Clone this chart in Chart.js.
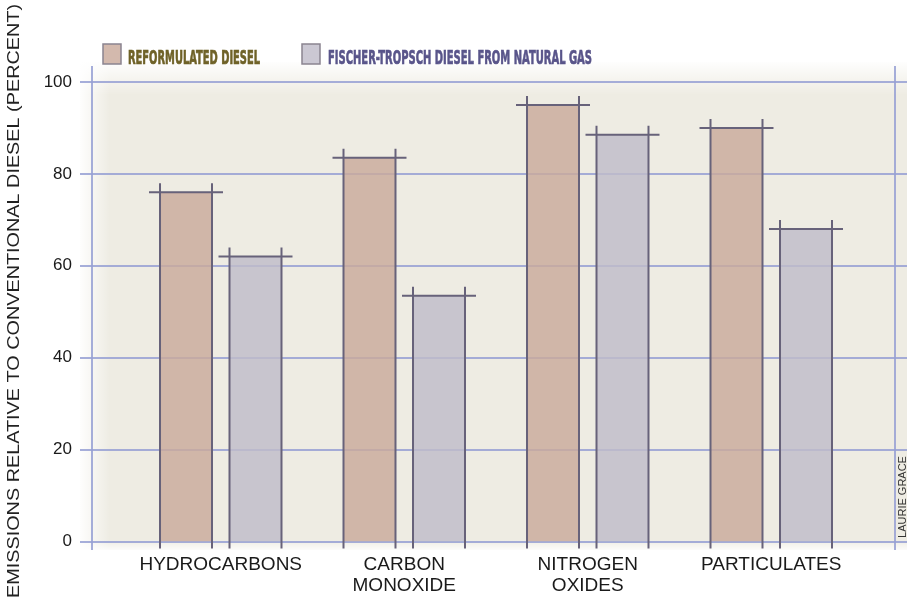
<!DOCTYPE html>
<html>
<head>
<meta charset="utf-8">
<script src="https://cdn.jsdelivr.net/npm/chart.js@4"></script>
<style>
  html, body { margin: 0; padding: 0; background: #fff; }
  #wrap { width: 907px; height: 600px; position: relative; }
</style>
</head>
<body>
<div id="wrap"><canvas id="chart"></canvas></div>
<script>
// data
const categories = [['HYDROCARBONS'], ['CARBON', 'MONOXIDE'], ['NITROGEN', 'OXIDES'], ['PARTICULATES']];
const reformulated = [76, 83.5, 95, 90];
const fischerTropsch = [62, 53.5, 88.5, 68];
const seriesNames = ['REFORMULATED DIESEL', 'FISCHER-TROPSCH DIESEL FROM NATURAL GAS'];
const yTicks = [0, 20, 40, 60, 80, 100];
const yTitle = 'EMISSIONS RELATIVE TO CONVENTIONAL DIESEL (PERCENT)';
const credit = 'LAURIE GRACE';

const fillColors = ['rgba(201,170,155,0.82)', 'rgba(191,188,201,0.82)'];
const legendText = ['#6f6228', '#59558a'];
const gridColor = 'rgba(150,160,212,0.85)';
const penColor = '#67627a';

// paper background + grid lines
const paper = {
  id: 'paper',
  beforeDraw(chart) {
    const ctx = chart.ctx;
    ctx.save();
    ctx.fillStyle = '#fff';
    ctx.fillRect(0, 0, chart.width, chart.height);
    ctx.fillStyle = '#eeece3';
    ctx.fillRect(80, 62, 827, 488);
    let g = ctx.createLinearGradient(0, 60, 0, 95);
    g.addColorStop(0, 'rgba(255,255,255,1)');
    g.addColorStop(1, 'rgba(255,255,255,0)');
    ctx.fillStyle = g;
    ctx.fillRect(80, 60, 827, 35);
    g = ctx.createLinearGradient(78, 0, 110, 0);
    g.addColorStop(0, 'rgba(255,255,255,1)');
    g.addColorStop(1, 'rgba(255,255,255,0)');
    ctx.fillStyle = g;
    ctx.fillRect(78, 60, 32, 492);
    g = ctx.createLinearGradient(0, 540, 0, 552);
    g.addColorStop(0, 'rgba(255,255,255,0)');
    g.addColorStop(1, 'rgba(255,255,255,1)');
    ctx.fillStyle = g;
    ctx.fillRect(78, 540, 829, 12);
    ctx.restore();
  },
  beforeDatasetsDraw(chart) {
    const ctx = chart.ctx;
    const y = chart.scales.y;
    ctx.save();
    ctx.strokeStyle = gridColor;
    ctx.lineWidth = 2;
    yTicks.forEach(v => {
      const py = Math.round(y.getPixelForValue(v));
      ctx.beginPath();
      ctx.moveTo(80, py);
      ctx.lineTo(907, py);
      ctx.stroke();
    });
    [92, 895].forEach(px => {
      ctx.beginPath();
      ctx.moveTo(px, 66);
      ctx.lineTo(px, 550);
      ctx.stroke();
    });
    ctx.restore();
  }
};

// sketchy pen outlines on each bar, legend and side texts
const pen = {
  id: 'pen',
  afterDatasetsDraw(chart) {
    const ctx = chart.ctx;
    ctx.save();
    ctx.strokeStyle = penColor;
    ctx.lineWidth = 2;
    chart.data.datasets.forEach((ds, i) => {
      chart.getDatasetMeta(i).data.forEach(bar => {
        const l = bar.x - bar.width / 2, r = bar.x + bar.width / 2;
        ctx.beginPath();
        ctx.moveTo(l, bar.y - 9); ctx.lineTo(l, bar.base + 7);
        ctx.moveTo(r, bar.y - 9); ctx.lineTo(r, bar.base + 7);
        ctx.moveTo(l - 11, bar.y); ctx.lineTo(r + 11, bar.y);
        ctx.stroke();
      });
    });
    ctx.restore();
  },
  afterDraw(chart) {
    const ctx = chart.ctx;
    ctx.save();
    // legend
    const boxes = [103, 302];
    const textX = [128, 328];
    const textW = [132, 264];
    ctx.font = 'bold 20px "DejaVu Sans Condensed", "DejaVu Sans", sans-serif';
    ctx.textBaseline = 'alphabetic';
    seriesNames.forEach((name, i) => {
      ctx.fillStyle = fillColors[i];
      ctx.fillRect(boxes[i], 44, 18, 20);
      ctx.strokeStyle = '#8a8490';
      ctx.lineWidth = 1.5;
      ctx.strokeRect(boxes[i], 44, 18, 20);
      const w = ctx.measureText(name).width;
      ctx.save();
      ctx.translate(textX[i], 64);
      ctx.scale(textW[i] / w, 1);
      ctx.fillStyle = legendText[i];
      ctx.strokeStyle = legendText[i];
      ctx.lineWidth = 0.7;
      ctx.fillText(name, 0, 0);
      ctx.strokeText(name, 0, 0);
      ctx.restore();
    });
    // y axis title
    ctx.font = '17px "Liberation Sans", Arial, sans-serif';
    ctx.fillStyle = '#222';
    const tw = ctx.measureText(yTitle).width;
    ctx.save();
    ctx.translate(14, 301);
    ctx.rotate(-Math.PI / 2);
    ctx.scale(594 / tw, 1);
    ctx.textAlign = 'center';
    ctx.textBaseline = 'middle';
    ctx.fillText(yTitle, 0, 0);
    ctx.restore();
    // credit
    ctx.font = '11px "Liberation Sans", Arial, sans-serif';
    ctx.fillStyle = '#333';
    ctx.save();
    ctx.translate(903, 497);
    ctx.rotate(-Math.PI / 2);
    ctx.textAlign = 'center';
    ctx.textBaseline = 'middle';
    ctx.fillText(credit, 0, 0);
    ctx.restore();
    ctx.restore();
  }
};

new Chart(document.getElementById('chart'), {
  type: 'bar',
  data: {
    labels: categories,
    datasets: [
      { label: seriesNames[0], data: reformulated, backgroundColor: fillColors[0] },
      { label: seriesNames[1], data: fischerTropsch, backgroundColor: fillColors[1] }
    ]
  },
  options: {
    responsive: true,
    maintainAspectRatio: false,
    animation: false,
    devicePixelRatio: 1,
    categoryPercentage: 0.7575,
    barPercentage: 0.748,
    layout: { padding: { top: 82, right: 44, bottom: 0, left: 0 } },
    plugins: { legend: { display: false }, tooltip: { enabled: false } },
    scales: {
      x: {
        grid: { display: false, drawTicks: false, tickLength: 0 },
        border: { display: false },
        ticks: {
          padding: 12,
          color: '#1a1a1a',
          font: { family: '"Liberation Sans", Arial, sans-serif', size: 19, lineHeight: 1.14 }
        },
        afterFit(scale) { scale.height = 58.5; }
      },
      y: {
        min: 0,
        max: 100,
        afterBuildTicks(scale) { scale.ticks = yTicks.map(v => ({ value: v })); },
        grid: { display: false, drawTicks: false, tickLength: 0 },
        border: { display: false },
        ticks: {
          padding: 57,
          color: '#1a1a1a',
          font: { family: '"Liberation Sans", Arial, sans-serif', size: 17 }
        },
        afterFit(scale) {
          scale.width = 129;
          scale.paddingTop = 0;
          scale.paddingBottom = 0;
        }
      }
    }
  },
  plugins: [paper, pen]
});
</script>
</body>
</html>
